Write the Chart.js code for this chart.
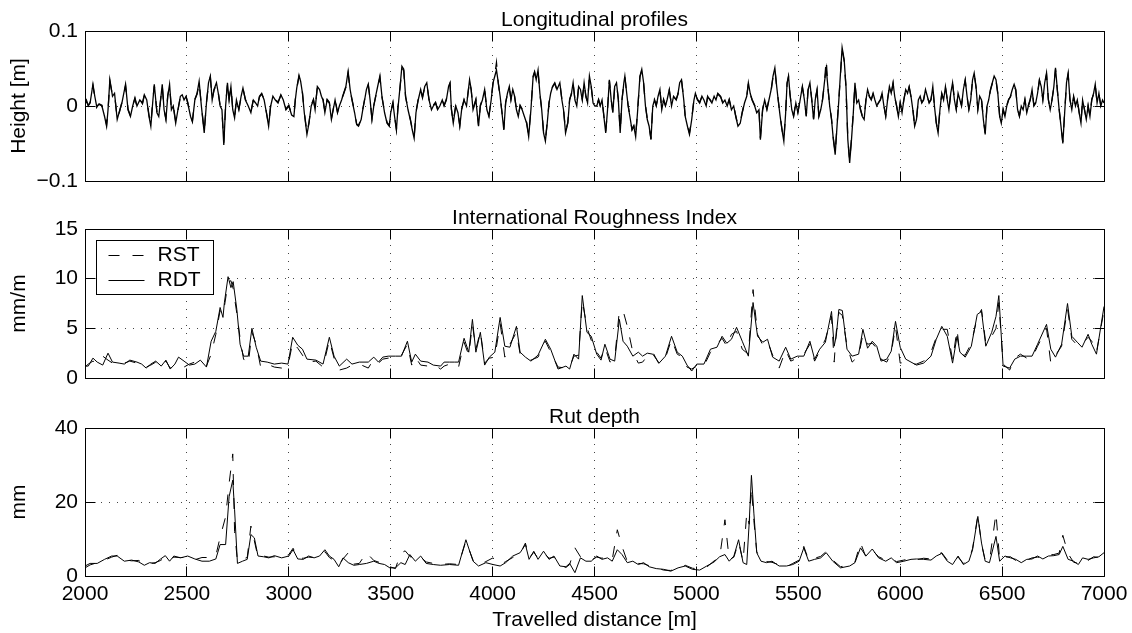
<!DOCTYPE html>
<html>
<head>
<meta charset="utf-8">
<script src="https://cdn.jsdelivr.net/npm/chart.js@4/dist/chart.umd.min.js"></script>
<style>
  body { margin: 0; background: #fff; }
  #quadro { position: relative; width: 1132px; height: 633px; background: #fff; }
  #quadro canvas { position: absolute; left: 0; }
</style>
</head>
<body>
<div id="quadro">
  <canvas id="perfil" width="1132" height="200" style="top:0px"></canvas>
  <canvas id="iri" width="1132" height="200" style="top:200px"></canvas>
  <canvas id="sulco" width="1132" height="233" style="top:400px"></canvas>
</div>
<script>
// ── Dados ───────────────────────────────────────────────────────────────────

const limitesDist = [2000, 7000]

// Perfis longitudinais [m]
const perfilDist = [
  2000,2007,2016,2025,2039,2048,2057,2069,2083,2096,
  2106,2113,2122,2135,2145,2158,2167,2181,2199,2211,
  2223,2234,2245,2255,2269,2282,2291,2303,2314,2323,
  2332,2340,2353,2362,2371,2379,2388,2397,2406,2415,
  2424,2433,2445,2456,2468,2477,2486,2496,2504,2518,
  2527,2539,2550,2560,2571,2585,2596,2606,2615,2624,
  2633,2645,2654,2663,2672,2681,2690,2699,2707,2716,
  2725,2734,2743,2755,2766,2775,2787,2801,2814,2826,
  2837,2847,2856,2867,2879,2890,2901,2911,2922,2934,
  2947,2961,2973,2986,3000,3014,3025,3032,3039,3050,
  3058,3067,3076,3089,3099,3110,3121,3129,3140,3151,
  3160,3168,3177,3188,3199,3209,3218,3227,3239,3248,
  3259,3269,3280,3291,3301,3310,3323,3333,3342,3355,
  3363,3372,3381,3390,3399,3408,3417,3426,3436,3447,
  3457,3470,3482,3493,3500,3511,3519,3528,3535,3546,
  3555,3564,3573,3585,3596,3606,3615,3624,3635,3647,
  3656,3667,3677,3688,3700,3709,3720,3730,3741,3753,
  3762,3773,3784,3791,3798,3807,3819,3830,3839,3848,
  3860,3872,3887,3895,3904,3918,3931,3940,3950,3961,
  3972,3982,3993,4002,4011,4019,4028,4037,4046,4055,
  4064,4073,4082,4090,4099,4108,4117,4126,4135,4145,
  4156,4167,4177,4188,4199,4206,4214,4223,4232,4241,
  4250,4259,4268,4277,4285,4294,4305,4316,4330,4340,
  4348,4358,
  4369,4378,4387,4395,4404,4413,4422,4431,4440,4449,
  4458,4466,4475,4484,4493,4502,4511,4520,4528,4537,
  4546,4555,4564,4573,4582,4590,4599,4608,4617,4626,
  4635,4644,4649,4658,4665,4676,4684,4693,4702,4711,
  4723,4732,4741,4750,4759,4768,4777,4786,4794,4803,
  4812,4821,4830,4839,4848,4856,4867,4878,4888,4901,
  4910,4918,4927,4938,4945,4956,4966,4977,4988,4995,
  5005,5016,5027,5037,5048,5055,5066,5076,5087,5096,
  5105,5119,5129,5140,5151,5161,5172,5183,5193,5204,
  5215,5225,5236,5247,5255,5264,5273,5286,5296,5307,
  5314,5325,5335,5346,5356,5367,5376,5385,5394,5403,
  5411,5420,5429,5438,5445,5452,5459,5468,5477,5488,
  5498,5509,5520,5530,5539,5548,5557,5566,5575,5583,
  5592,5601,5610,5619,5628,5637,5645,5654,5663,5672,
  5681,5690,5699,5707,5715,5725,5734,5743,5752,5761,
  5770,5778,5787,5796,5805,5814,5823,5832,5840,5849,
  5858,5867,5876,5885,5894,5903,5911,5920,5929,5938,
  5947,5956,5965,5973,5982,5991,6000,6009,6018,6027,
  6036,6044,6053,6062,6071,6080,6089,6098,6106,6115,
  6124,6133,6142,6151,6160,6168,6177,6186,6195,6204,
  6213,6222,6231,6239,6248,6257,6266,6275,6284,6293,
  6301,6310,6319,6328,6337,6346,6355,6363,6372,6381,
  6390,6399,6408,6417,6426,6434,6443,6452,6461,6470,
  6479,6488,6496,6505,6514,6523,6532,6541,6550,6559,
  6567,6576,6585,6594,6603,6612,6621,6629,6638,6647,
  6656,6665,6674,6683,6692,6700,6709,6718,6727,6736,
  6745,6754,6762,6771,6780,6789,6798,6807,6816,6824,
  6833,6842,6851,6860,6869,6878,6887,6895,6904,6913,
  6922,6931,6940,6949,6957,6966,6975,6984,6993,7000,
]

const perfilRDT = [
  0.004,0.008,0.000,0.004,0.029,0.013,0.000,0.002,0.000,-0.014,
  -0.027,-0.005,0.035,0.013,0.017,-0.018,-0.009,0.004,0.029,-0.005,
  -0.014,0.000,0.011,0.000,0.008,0.004,0.015,0.008,-0.014,-0.027,
  0.004,0.029,-0.009,-0.014,0.008,0.029,-0.005,-0.018,0.013,0.029,
  -0.005,0.000,-0.023,-0.005,0.013,0.015,0.008,0.013,0.004,-0.014,
  -0.021,0.008,0.017,0.033,0.000,-0.036,0.004,0.031,0.040,0.008,
  0.022,0.031,0.017,0.000,-0.005,-0.052,0.000,0.031,0.008,0.026,
  -0.005,-0.016,0.008,-0.005,0.013,0.024,0.008,0.000,-0.009,0.008,
  0.004,0.000,0.013,0.017,0.008,-0.009,-0.027,0.000,0.013,0.008,
  0.004,0.015,0.008,-0.005,0.000,-0.012,-0.014,0.008,0.024,0.041,
  0.033,0.017,-0.009,-0.038,-0.023,0.000,0.008,-0.005,0.026,0.022,
  0.013,0.008,-0.009,0.008,0.004,-0.018,-0.005,0.008,-0.009,0.000,
  0.008,0.017,0.026,0.046,0.022,0.008,-0.009,-0.025,-0.027,-0.018,
  -0.005,0.008,0.022,0.029,0.008,-0.018,0.000,0.013,0.026,0.040,
  0.013,-0.009,-0.023,-0.027,-0.009,0.004,-0.014,-0.032,-0.005,0.026,
  0.053,0.049,0.013,-0.005,-0.018,-0.032,-0.043,-0.009,0.008,0.022,
  0.011,0.026,0.031,0.008,-0.005,0.000,0.004,-0.005,0.000,0.008,
  0.000,0.008,0.026,0.031,-0.005,-0.023,0.000,-0.009,-0.027,-0.005,
  0.008,0.000,0.035,0.022,-0.005,0.008,-0.027,0.000,0.008,0.022,
  -0.005,-0.014,0.008,0.031,0.040,0.048,0.031,0.013,-0.009,-0.032,
  0.004,0.017,0.026,0.008,0.022,0.013,-0.005,-0.014,0.000,-0.005,
  -0.014,-0.023,-0.041,-0.005,0.040,0.046,0.035,0.048,0.017,-0.005,
  -0.036,-0.047,-0.023,0.004,0.017,0.026,0.031,0.022,0.031,0.008,
  -0.005,-0.036,
  -0.023,0.008,0.017,0.031,0.008,0.000,0.026,0.022,0.008,0.031,
  0.013,0.004,0.040,0.026,0.004,0.000,0.000,0.008,0.000,0.008,
  -0.014,-0.036,-0.005,0.035,0.008,-0.009,0.026,0.031,0.008,-0.036,
  0.008,0.031,0.040,0.017,0.000,-0.018,-0.032,-0.027,-0.041,-0.009,
  0.040,0.049,0.031,0.000,-0.018,-0.027,-0.045,0.000,0.008,0.000,
  0.013,0.022,-0.005,0.008,0.000,0.008,0.022,0.000,0.013,0.008,
  0.017,0.031,0.035,0.008,-0.014,-0.027,-0.038,-0.018,0.008,0.017,
  0.008,0.004,0.013,0.008,0.000,0.013,0.008,0.004,0.013,0.008,
  0.017,0.013,0.004,0.008,0.000,0.008,-0.005,0.000,-0.014,-0.027,
  -0.023,-0.009,0.004,0.013,0.031,0.017,0.008,0.000,-0.009,-0.005,
  -0.045,-0.005,0.008,-0.005,0.008,0.022,0.040,0.051,0.026,0.004,
  -0.014,-0.032,-0.047,-0.009,0.031,0.040,0.017,-0.005,-0.014,0.004,
  -0.009,0.008,0.026,0.008,-0.014,0.022,0.031,0.008,-0.018,0.008,
  0.022,-0.014,-0.005,0.008,0.031,0.050,0.026,0.000,-0.018,-0.045,
  -0.065,-0.027,0.008,0.044,0.078,0.062,0.026,-0.045,-0.076,-0.045,
  -0.009,0.031,0.004,0.008,-0.005,-0.014,-0.018,0.008,0.022,0.013,
  0.008,0.017,0.008,0.000,0.004,0.008,0.017,0.000,-0.014,0.008,
  0.026,0.017,0.031,0.013,0.000,-0.014,0.004,-0.009,0.008,0.022,
  0.017,0.026,0.013,-0.005,-0.027,-0.018,0.008,0.013,0.004,0.008,
  0.022,0.013,0.004,0.008,0.026,0.000,-0.023,-0.036,-0.005,0.017,
  0.008,0.026,0.008,-0.005,0.017,0.031,0.008,-0.005,0.017,0.008,
  0.000,0.022,0.035,0.013,-0.005,0.008,0.035,0.044,0.026,-0.005,
  0.013,0.008,-0.018,-0.038,0.000,0.008,0.022,0.031,0.040,0.035,
  0.017,-0.014,-0.023,-0.005,-0.014,0.000,0.008,0.013,0.022,0.029,
  0.022,-0.005,-0.014,0.000,-0.005,0.008,-0.009,0.000,0.008,0.022,
  0.000,0.004,0.017,0.035,0.026,0.008,0.031,0.044,0.008,-0.005,
  0.008,0.026,0.051,0.022,-0.005,-0.027,-0.050,-0.009,0.031,0.044,
  0.008,-0.005,0.013,0.000,0.008,-0.009,-0.023,0.008,-0.005,-0.018,
  0.000,-0.014,0.008,0.017,0.029,0.004,0.017,0.000,0.008,0.004,
]

const perfilRST = [
  0.003,0.006,0.001,0.005,0.027,0.012,-0.002,0.003,0.001,-0.012,
  -0.025,-0.006,0.033,0.014,0.016,-0.017,-0.010,0.005,0.027,-0.004,
  -0.013,0.001,0.010,-0.001,0.009,0.003,0.014,0.009,-0.012,-0.025,
  0.005,0.027,-0.008,-0.013,0.009,0.027,-0.004,-0.017,0.014,0.027,
  -0.004,0.001,-0.021,-0.006,0.012,0.016,0.009,0.012,0.005,-0.013,
  -0.020,0.009,0.016,0.031,0.001,-0.034,0.005,0.029,0.038,0.009,
  0.021,0.029,0.018,0.001,-0.006,-0.049,0.001,0.029,0.009,0.025,
  -0.004,-0.015,0.009,-0.004,0.012,0.023,0.009,0.001,-0.008,0.009,
  0.005,0.001,0.012,0.016,0.009,-0.008,-0.025,0.001,0.012,0.009,
  0.005,0.014,0.009,-0.004,0.001,-0.011,-0.013,0.009,0.023,0.039,
  0.032,0.018,-0.008,-0.036,-0.022,0.001,0.009,-0.004,0.025,0.021,
  0.012,0.009,-0.008,0.009,0.005,-0.017,-0.004,0.009,-0.008,0.001,
  0.009,0.016,0.025,0.044,0.021,0.009,-0.008,-0.024,-0.026,-0.017,
  -0.004,0.009,0.021,0.028,0.009,-0.017,0.001,0.012,0.025,0.038,
  0.012,-0.008,-0.022,-0.026,-0.008,0.005,-0.013,-0.031,-0.004,0.025,
  0.051,0.047,0.012,-0.004,-0.017,-0.031,-0.041,-0.008,0.009,0.021,
  0.012,0.025,0.030,0.009,-0.004,0.001,0.005,-0.004,0.001,0.009,
  0.001,0.009,0.025,0.030,-0.004,-0.022,0.001,-0.008,-0.026,-0.004,
  0.009,0.001,0.034,0.021,-0.004,0.009,-0.026,0.001,0.009,0.021,
  -0.004,-0.013,0.009,0.030,0.042,0.058,0.030,0.012,-0.008,-0.031,
  0.005,0.016,0.025,0.009,0.021,0.012,-0.004,-0.013,0.001,-0.004,
  -0.013,-0.022,-0.039,-0.004,0.039,0.045,0.034,0.046,0.016,-0.004,
  -0.034,-0.045,-0.022,0.005,0.016,0.025,0.030,0.021,0.030,0.009,
  -0.004,-0.034,
  -0.022,0.009,0.016,0.030,0.009,0.001,0.025,0.021,0.009,0.030,
  0.012,0.005,0.039,0.025,0.005,0.001,0.001,0.009,0.001,0.009,
  -0.013,-0.034,-0.004,0.034,0.009,-0.008,0.025,0.030,0.009,-0.034,
  0.009,0.030,0.039,0.016,0.001,-0.017,-0.031,-0.026,-0.039,-0.008,
  0.039,0.047,0.030,0.001,-0.017,-0.026,-0.044,0.001,0.009,0.001,
  0.012,0.021,-0.004,0.009,0.001,0.009,0.021,0.001,0.012,0.009,
  0.016,0.030,0.034,0.009,-0.013,-0.026,-0.036,-0.017,0.009,0.016,
  0.009,0.005,0.012,0.009,0.001,0.012,0.009,0.005,0.012,0.009,
  0.016,0.012,0.005,0.009,0.001,0.009,-0.004,0.001,-0.013,-0.026,
  -0.022,-0.008,0.005,0.012,0.030,0.016,0.009,0.001,-0.008,-0.004,
  -0.043,-0.004,0.009,-0.004,0.009,0.021,0.039,0.049,0.025,0.005,
  -0.013,-0.031,-0.045,-0.008,0.030,0.039,0.016,-0.004,-0.013,0.005,
  -0.008,0.009,0.025,0.009,-0.013,0.021,0.030,0.009,-0.017,0.009,
  0.021,-0.013,-0.004,0.009,0.030,0.062,0.025,0.001,-0.017,-0.043,
  -0.062,-0.026,0.009,0.042,0.075,0.060,0.025,-0.043,-0.073,-0.043,
  -0.008,0.030,0.005,0.009,-0.004,-0.013,-0.017,0.009,0.021,0.012,
  0.009,0.016,0.009,0.001,0.005,0.009,0.016,0.001,-0.013,0.009,
  0.025,0.016,0.030,0.012,0.001,-0.013,0.005,-0.008,0.009,0.021,
  0.016,0.025,0.012,-0.004,-0.026,-0.017,0.009,0.012,0.005,0.009,
  0.021,0.012,0.005,0.009,0.025,0.001,-0.022,-0.034,-0.004,0.016,
  0.009,0.025,0.009,-0.004,0.016,0.030,0.009,-0.004,0.016,0.009,
  0.001,0.021,0.034,0.012,-0.004,0.009,0.034,0.042,0.025,-0.004,
  0.012,0.009,-0.017,-0.036,0.001,0.009,0.021,0.030,0.039,0.034,
  0.016,-0.013,-0.022,-0.004,-0.013,0.001,0.009,0.012,0.021,0.028,
  0.021,-0.004,-0.013,0.001,-0.004,0.009,-0.008,0.001,0.009,0.021,
  0.001,0.005,0.016,0.034,0.025,0.009,0.030,0.042,0.009,-0.004,
  0.009,0.025,0.049,0.021,-0.004,-0.026,-0.048,-0.008,0.030,0.042,
  0.009,-0.004,0.012,0.001,0.009,-0.008,-0.022,0.009,-0.004,-0.017,
  0.001,-0.013,0.009,0.016,0.028,0.005,0.016,0.001,0.009,0.005,
]

// International Roughness Index [mm/m]
const iriDist = [
  2000,2016,2039,2060,2087,2113,2135,2167,2193,2220,
  2255,2278,2300,2323,2347,2374,2397,2418,2441,2459,
  2486,2512,2539,2566,2596,2619,2642,2663,2677,2684,
  2702,2716,2727,2745,2761,2778,2801,2819,2840,2862,
  2894,2929,2965,2996,3019,3044,3067,3089,3133,3168,
  3199,3222,3248,3284,3310,3346,3390,3417,3440,3461,
  3488,3523,3553,3582,3603,3621,3647,3683,3709,3745,
  3762,3789,3812,3833,3860,3883,3901,3918,3940,3961,
  3984,4011,4037,4060,4085,4117,4135,4161,4188,4223,
  4259,4285,4321,4360,4378,4399,4422,4440,4463,4484,
  4511,4532,4551,4576,4599,4622,4640,4661,4688,4715,
  4736,4759,4786,4817,4848,4878,4906,4931,4954,4977,
  5002,5037,5069,5101,5126,5149,5172,5197,5225,5255,
  5278,5300,5326,5349,5374,5406,5438,5463,5495,5527,
  5557,5580,5605,5633,5663,5676,5686,5699,5716,5739,
  5764,5796,5817,5840,5863,5885,5906,5934,5956,5977,
  6000,6027,6053,6080,6115,6151,6177,6204,6231,6257,
  6279,6293,6319,6349,6378,6399,6420,6449,6470,6484,
  6505,6537,6562,6590,6621,6647,6674,6718,6739,6762,
  6792,6821,6842,6869,6892,6922,6940,6963,7000,
]

const iriRST = [
  1.1,1.4,1.7,1.5,2.2,1.8,1.5,1.4,1.5,1.7,
  1.5,1.5,1.1,1.3,1.6,1.1,1.7,1.0,1.2,1.2,
  1.1,1.4,1.6,1.5,1.2,2.4,4.4,6.8,6.4,7.2,
  9.6,9.8,9.0,6.5,4.0,1.9,1.4,4.6,3.4,1.1,
  1.4,1.1,1.0,1.2,3.6,3.0,2.3,1.6,1.7,1.1,
  3.8,2.0,0.8,1.0,1.3,1.4,1.0,1.9,1.5,1.9,
  2.0,2.0,2.3,3.4,1.3,2.1,1.3,1.2,1.4,0.9,
  1.2,1.4,1.5,1.1,3.6,2.3,5.4,2.9,4.7,1.5,
  2.0,2.1,5.5,2.1,3.4,4.6,2.4,1.9,1.8,2.1,
  3.7,2.6,1.1,1.0,1.1,2.2,2.3,7.8,5.1,3.8,
  2.6,2.0,3.1,1.6,1.9,6.8,6.8,5.2,2.6,1.5,
  1.6,2.2,2.6,1.4,2.0,3.9,2.4,2.1,1.1,0.9,
  1.2,1.2,2.6,3.4,4.0,3.2,4.4,4.7,2.9,2.4,
  8.9,4.4,3.3,3.7,2.3,1.0,2.8,1.7,2.0,2.4,
  3.4,1.7,2.7,3.9,6.2,1.6,4.6,6.6,6.3,3.2,
  1.6,2.2,4.4,3.4,3.5,3.0,1.9,1.6,2.5,5.2,
  1.5,1.6,1.4,1.4,1.7,2.6,4.1,4.9,4.9,1.8,
  4.9,2.3,2.3,3.5,6.1,6.9,3.5,4.2,5.0,7.6,
  1.4,0.8,2.0,2.4,2.0,2.0,3.2,5.0,1.5,2.3,
  3.2,7.0,3.9,3.3,3.4,4.1,3.7,2.6,6.8,
]

const iriRDT = [
  1.2,1.2,2.0,1.6,1.3,2.5,1.6,1.5,1.4,1.8,
  1.6,1.4,1.0,1.4,1.7,1.2,1.8,0.9,1.4,2.1,
  1.7,1.3,1.4,1.8,1.1,3.7,4.7,7.1,6.1,7.6,
  10.2,9.1,9.7,6.9,3.4,2.2,2.2,5.0,3.1,1.7,
  1.6,1.4,1.5,1.4,4.1,3.3,2.9,1.9,1.8,1.4,
  4.1,2.2,1.2,1.9,1.4,1.6,1.6,2.1,1.6,2.1,
  2.2,2.2,2.2,3.7,1.6,2.4,1.7,1.6,1.3,1.2,
  1.6,1.6,1.6,1.6,4.0,2.6,5.9,2.6,4.6,1.3,
  2.1,2.6,6.1,3.2,3.1,5.2,2.6,2.1,1.7,2.3,
  3.9,2.9,0.9,1.2,0.9,2.4,1.9,8.3,4.6,4.2,
  2.4,1.8,3.4,1.9,1.7,5.9,3.7,3.2,2.2,2.6,
  2.2,2.5,2.4,1.5,2.2,4.2,2.6,2.2,1.3,0.7,
  1.4,1.4,2.9,3.1,4.2,3.5,3.9,5.1,3.7,2.2,
  7.6,4.2,3.6,3.9,2.1,1.7,3.1,1.9,2.2,2.2,
  3.7,1.9,2.9,3.6,6.7,3.2,4.2,6.9,6.8,2.9,
  2.2,2.4,4.9,3.0,3.7,3.2,1.7,1.9,2.7,5.7,
  3.1,1.9,1.6,1.3,1.5,2.2,3.9,5.2,4.2,1.5,
  4.2,2.6,2.1,3.2,6.4,6.7,3.2,4.6,6.2,8.3,
  1.2,1.0,1.9,2.2,2.2,2.2,3.4,5.4,2.9,2.1,
  3.4,7.5,4.2,3.6,3.1,4.4,3.4,2.4,7.2,
]

// Profundidade de trilha de roda (rut depth) [mm]
const sulcoDist = [
  2000,2025,2060,2096,2131,2158,2193,2229,2264,2291,
  2317,2344,2371,2394,2415,2436,2468,2504,2539,2574,
  2610,2642,2663,2690,2707,2725,2734,2748,2773,2796,
  2814,2831,2849,2876,2902,2929,2965,3000,3021,3044,
  3071,3097,3124,3151,3177,3199,3222,3245,3266,3292,
  3319,3346,3381,3417,3443,3470,3496,3523,3550,3571,
  3594,3621,3647,3674,3709,3745,3789,3833,3869,3904,
  3931,3967,4002,4037,4064,4099,4135,4161,4179,4202,
  4223,4250,4277,4301,4330,4360,4378,4404,4431,4458,
  4484,4511,4537,4564,4587,4612,4635,4661,4688,4715,
  4741,4768,4803,4839,4874,4910,4945,4981,5016,5051,
  5087,5114,5140,5161,5184,5207,5229,5247,5259,5270,
  5282,5296,5317,5344,5371,5406,5442,5473,5504,5527,
  5551,5580,5610,5637,5669,5707,5752,5778,5805,5832,
  5863,5894,5929,5956,5982,6018,6053,6080,6115,6151,
  6177,6204,6231,6257,6284,6310,6337,6355,6381,6399,
  6417,6438,6470,6488,6514,6541,6567,6594,6621,6647,
  6674,6700,6727,6754,6780,6798,6824,6851,6874,6895,
  6922,6949,6975,7000,
]

const sulcoRST = [
  2.2,3.0,3.6,4.3,5.1,5.6,4.4,4.1,4.2,3.1,
  3.3,3.6,4.2,5.1,4.3,5.1,5.0,5.0,4.4,5.0,
  5.0,5.5,10.5,16.0,25.0,33.0,12.0,4.0,4.6,5.0,
  13.5,9.5,5.0,5.4,5.1,5.2,5.2,5.8,7.5,4.8,
  4.8,5.1,5.0,5.6,6.6,5.0,4.2,3.0,4.6,6.3,
  3.2,3.4,6.3,4.2,3.7,3.4,2.5,2.0,6.2,6.8,
  5.3,4.4,5.1,3.8,3.4,3.1,3.3,3.1,9.4,4.3,
  3.0,3.9,4.9,3.0,3.9,5.0,6.0,8.9,4.8,6.4,
  4.8,6.3,4.8,5.1,3.0,2.3,3.1,7.6,5.2,4.3,
  4.3,5.1,4.8,5.2,4.4,12.5,8.0,3.9,3.8,3.4,
  3.3,2.8,2.2,1.6,1.5,2.0,2.9,2.1,1.9,2.4,
  4.1,5.0,15.2,4.4,5.1,9.2,3.9,17.0,14.0,24.0,
  15.0,6.6,4.3,3.9,3.7,3.0,2.5,3.4,4.3,8.0,
  4.3,4.8,5.3,6.6,4.3,2.5,2.9,3.8,9.0,5.1,
  7.0,5.2,4.3,4.6,3.9,4.3,4.8,4.4,4.8,4.6,
  5.7,6.3,4.3,3.4,5.1,3.4,4.3,7.4,16.5,8.6,
  4.3,3.9,17.0,4.3,5.1,5.2,4.2,3.9,4.3,4.9,
  5.1,4.9,5.7,5.8,6.2,11.0,6.0,3.7,3.4,4.6,
  4.2,5.2,5.0,6.0,
]

const sulcoRDT = [
  2.7,3.4,3.4,4.5,5.4,5.4,4.0,4.3,3.8,2.9,
  3.6,3.4,4.6,5.5,4.0,5.4,4.9,5.4,4.6,4.0,
  4.0,4.6,8.5,8.5,21.4,25.9,17.9,3.4,4.0,4.5,
  11.2,10.3,5.4,5.2,4.9,5.5,4.9,5.4,7.1,4.6,
  4.5,5.4,4.9,5.4,7.1,5.4,4.5,2.5,4.9,3.6,
  2.9,3.1,3.4,4.0,3.4,3.1,2.2,2.2,3.6,3.1,
  5.8,4.0,5.4,3.4,3.1,2.9,3.1,2.9,9.8,4.0,
  2.7,3.6,3.1,2.7,3.6,5.4,6.3,8.5,4.5,6.7,
  4.5,6.7,4.5,5.4,2.7,2.5,3.4,0.9,4.9,4.0,
  4.0,5.4,4.5,4.9,4.0,7.1,5.8,3.6,4.0,3.1,
  3.6,2.5,2.0,1.8,1.3,2.2,2.7,1.8,1.6,2.7,
  3.8,5.2,5.8,4.0,5.4,9.8,3.6,3.1,14.3,27.2,
  17.0,6.3,4.0,3.6,4.0,2.7,2.7,3.1,4.0,7.6,
  4.0,4.5,4.9,6.3,4.0,2.2,2.7,3.6,7.6,5.4,
  7.3,4.9,4.0,4.9,3.6,4.0,4.5,4.6,4.5,4.3,
  5.4,6.1,4.0,3.1,5.4,3.1,4.0,7.1,16.1,8.9,
  4.0,3.6,10.7,4.0,5.4,4.9,4.5,3.6,4.5,4.6,
  5.4,4.6,5.4,5.5,5.8,8.0,4.5,4.0,3.1,4.9,
  4.5,4.9,5.2,6.3,
]

// ── Estilo comum ────────────────────────────────────────────────────────────

const FONTE = "'Liberation Sans', Arial, Helvetica, sans-serif"
const TRACEJADO = [11, 13]
const TICK = 10 // comprimento dos ticks internos, estilo MATLAB

Chart.defaults.font.family = FONTE
Chart.defaults.font.size = 21
Chart.defaults.color = '#000'

const pontos = (xs, ys) => xs.map((x, i) => ({ x, y: ys[i] }))
const alinhar = (v) => Math.round(v - 0.5) + 0.5

// Caixa fechada com ticks para dentro nos quatro lados
const moldura = {
  id: 'moldura',
  afterDatasetsDraw(chart) {
    const { ctx, chartArea: a, scales } = chart
    const esq = alinhar(a.left)
    const dir = alinhar(a.right)
    const topo = alinhar(a.top)
    const base = alinhar(a.bottom)
    ctx.save()
    ctx.strokeStyle = '#000'
    ctx.lineWidth = 1
    ctx.setLineDash([])
    ctx.beginPath()
    ctx.rect(esq, topo, dir - esq, base - topo)
    scales.x.ticks.forEach((t) => {
      const px = alinhar(scales.x.getPixelForValue(t.value))
      ctx.moveTo(px, base)
      ctx.lineTo(px, base - TICK)
      ctx.moveTo(px, topo)
      ctx.lineTo(px, topo + TICK)
    })
    scales.y.ticks.forEach((t) => {
      const py = alinhar(scales.y.getPixelForValue(t.value))
      ctx.moveTo(esq, py)
      ctx.lineTo(esq + TICK, py)
      ctx.moveTo(dir, py)
      ctx.lineTo(dir - TICK, py)
    })
    ctx.stroke()
    ctx.restore()
  },
}

// Legenda com caixa dentro da área do gráfico (canto superior esquerdo)
const legendaInterna = {
  id: 'legendaInterna',
  afterDraw(chart) {
    const { ctx, chartArea: a } = chart
    const x = alinhar(a.left + 11)
    const y = alinhar(a.top + 11)
    const w = 117
    const h = 54
    ctx.save()
    ctx.fillStyle = '#fff'
    ctx.fillRect(x, y, w, h)
    ctx.strokeStyle = '#000'
    ctx.lineWidth = 1
    ctx.strokeRect(x, y, w, h)
    ctx.font = `21px ${FONTE}`
    ctx.textBaseline = 'middle'
    ctx.fillStyle = '#000'
    chart.data.datasets.forEach((ds, i) => {
      const ly = alinhar(y + 15 + i * 25)
      ctx.setLineDash(ds.borderDash || [])
      ctx.beginPath()
      ctx.moveTo(x + 12, ly)
      ctx.lineTo(x + 48, ly)
      ctx.stroke()
      ctx.setLineDash([])
      ctx.fillText(ds.label, x + 61, ly)
    })
    ctx.restore()
  },
}

function criarGrafico(id, cfg) {
  const grade = { color: '#444', lineWidth: 1, drawTicks: false }
  const pontilhado = { display: false, dash: [1, 7] }
  const espessura = cfg.espessura || 1

  return new Chart(document.getElementById(id), {
    type: 'line',
    data: {
      datasets: [
        {
          label: 'RST',
          data: pontos(cfg.dist, cfg.rst),
          borderColor: '#000',
          borderWidth: espessura,
          borderDash: TRACEJADO,
          pointRadius: 0,
          tension: 0,
          order: 1,
        },
        {
          label: 'RDT',
          data: pontos(cfg.dist, cfg.rdt),
          borderColor: '#000',
          borderWidth: espessura,
          pointRadius: 0,
          tension: 0,
          order: 0,
        },
      ],
    },
    options: {
      responsive: false,
      animation: false,
      events: [],
      devicePixelRatio: 1,
      layout: { padding: { left: 0, right: 28, top: 0, bottom: 0 } },
      plugins: {
        legend: { display: false },
        tooltip: { enabled: false },
        title: {
          display: true,
          text: cfg.titulo,
          fullSize: false,
          color: '#000',
          font: { size: 21, weight: 'normal', lineHeight: 1 },
          padding: { top: cfg.tituloTopo, bottom: 0 },
        },
      },
      scales: {
        x: {
          type: 'linear',
          min: limitesDist[0],
          max: limitesDist[1],
          grid: grade,
          border: pontilhado,
          ticks: {
            display: cfg.rotulosX,
            stepSize: 500,
            padding: 8,
            maxRotation: 0,
            autoSkip: false,
            font: { lineHeight: 1 },
            callback: (v) => String(v),
          },
          title: {
            display: cfg.rotulosX,
            text: 'Travelled distance [m]',
            font: { lineHeight: 1 },
            padding: { top: 0, bottom: 2 },
          },
          // altura fixa e sem folga lateral, para alinhar os três painéis
          afterFit: (s) => {
            s.height = cfg.alturaX
            s.paddingLeft = 0
            s.paddingRight = 0
          },
        },
        y: {
          min: cfg.yMin,
          max: cfg.yMax,
          grid: grade,
          border: pontilhado,
          ticks: {
            stepSize: cfg.yPasso,
            padding: 7,
            font: { lineHeight: 1 },
            callback: cfg.formatoY || ((v) => String(v)),
          },
          title: {
            display: true,
            text: cfg.rotuloY,
            font: { lineHeight: 1 },
            padding: { top: 9, bottom: 0 },
          },
          afterFit: (s) => {
            s.width = 85
            s.paddingTop = 0
            s.paddingBottom = 0
          },
        },
      },
    },
    plugins: cfg.legenda ? [moldura, legendaInterna] : [moldura],
  })
}

// ── Gráficos ────────────────────────────────────────────────────────────────

criarGrafico('perfil', {
  titulo: 'Longitudinal profiles',
  tituloTopo: 10,
  rotuloY: 'Height [m]',
  dist: perfilDist,
  rst: perfilRST,
  rdt: perfilRDT,
  yMin: -0.1,
  yMax: 0.1,
  yPasso: 0.1,
  formatoY: (v) =>
    Math.abs(v) < 1e-9 ? '0' : (v < 0 ? '\u2212' : '') + Math.abs(v).toFixed(1),
  rotulosX: false,
  alturaX: 19,
  espessura: 1.3,
})

criarGrafico('iri', {
  titulo: 'International Roughness Index',
  tituloTopo: 8,
  rotuloY: 'mm/m',
  dist: iriDist,
  rst: iriRST,
  rdt: iriRDT,
  yMin: 0,
  yMax: 15,
  yPasso: 5,
  rotulosX: false,
  alturaX: 22,
  legenda: true,
})

criarGrafico('sulco', {
  titulo: 'Rut depth',
  tituloTopo: 7,
  rotuloY: 'mm',
  dist: sulcoDist,
  rst: sulcoRST,
  rdt: sulcoRDT,
  yMin: 0,
  yMax: 40,
  yPasso: 20,
  rotulosX: true,
  alturaX: 57,
})
</script>
</body>
</html>
